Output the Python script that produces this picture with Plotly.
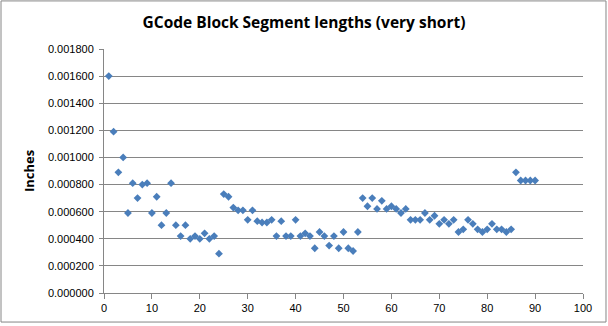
import plotly.graph_objects as go

segment_index = list(range(1, 91))
segment_length = [
    0.00160, 0.00119, 0.00089, 0.00100, 0.00059, 0.00081, 0.00070, 0.00080, 0.00081, 0.00059,
    0.00071, 0.00050, 0.00059, 0.00081, 0.00050, 0.00042, 0.00050, 0.00040, 0.00042, 0.00040,
    0.00044, 0.00040, 0.00042, 0.00029, 0.00073, 0.00071, 0.00063, 0.00061, 0.00061, 0.00054,
    0.00061, 0.00053, 0.00052, 0.00052, 0.00054, 0.00042, 0.00053, 0.00042, 0.00042, 0.00054,
    0.00042, 0.00044, 0.00042, 0.00033, 0.00045, 0.00042, 0.00035, 0.00042, 0.00033, 0.00045,
    0.00033, 0.00031, 0.00045, 0.00070, 0.00064, 0.00070, 0.00062, 0.00068, 0.00062, 0.00064,
    0.00062, 0.00059, 0.00062, 0.00054, 0.00054, 0.00054, 0.00059, 0.00054, 0.00057, 0.00051,
    0.00054, 0.00051, 0.00054, 0.00045, 0.00047, 0.00054, 0.00051, 0.00047, 0.00045, 0.00047,
    0.00051, 0.00047, 0.00047, 0.00045, 0.00047, 0.00089, 0.00083, 0.00083, 0.00083, 0.00083,
]

title_text = "GCode Block Segment lengths (very short)"
y_title = "Inches"

fig = go.Figure()
fig.add_trace(go.Scatter(
    x=segment_index, y=segment_length, mode="markers",
    marker=dict(symbol="diamond", size=6, color="#4a7ebb"),
    showlegend=False,
))

axis_font = dict(family="Liberation Sans, Arial", size=11, color="#000000")

fig.update_layout(
    width=608, height=326,
    margin=dict(l=104, r=25, t=49, b=33),
    paper_bgcolor="white", plot_bgcolor="white",
    title=dict(text=title_text, x=0.5, xref="container", xanchor="center",
               y=1 - 23 / 326, yref="container", yanchor="middle",
               font=dict(family="Open Sans, Liberation Sans", size=15.5, color="#000000", weight="bold")),
    xaxis=dict(range=[0, 100], dtick=10, tick0=0, showgrid=False,
               showline=True, linecolor="#868686", linewidth=1,
               ticks="outside", ticklen=5, tickcolor="#868686",
               tickfont=axis_font, zeroline=False, fixedrange=True),
    yaxis=dict(range=[0, 0.0018], dtick=0.0002, tick0=0, tickformat=".6f",
               showgrid=True, gridcolor="#868686", gridwidth=1,
               showline=True, linecolor="#868686", linewidth=1,
               ticks="outside", ticklen=4, tickcolor="#868686",
               ticklabelstandoff=3,
               tickfont=axis_font, zeroline=False, fixedrange=True,
               title=dict(text=y_title, standoff=10,
                          font=dict(family="Open Sans, Liberation Sans", size=13, color="#000000", weight="bold"))),
    shapes=[dict(type="rect", xref="paper", yref="paper",
                 x0=-0.215, x1=1.048, y0=-0.119, y1=1.197,
                 line=dict(color="#868686", width=1), layer="below")],
)

fig.write_html("out.html")
